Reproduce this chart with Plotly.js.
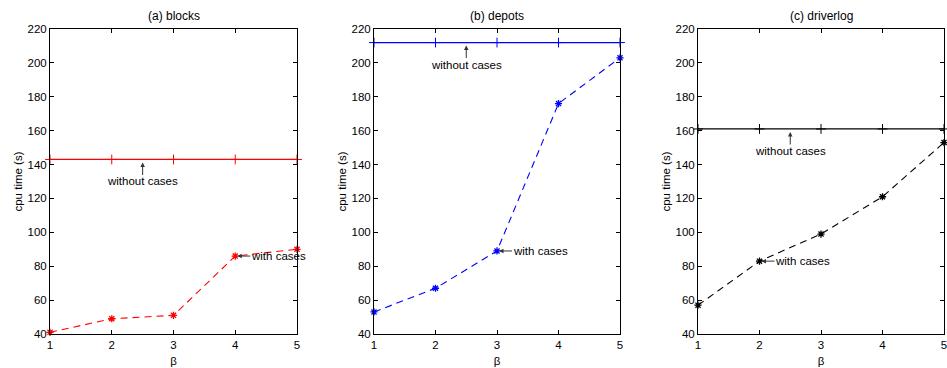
<!DOCTYPE html>
<html><head><meta charset="utf-8">
<script src="https://cdn.plot.ly/plotly-3.0.1.min.js"></script>
<style>html,body{margin:0;padding:0;background:#fff}#chart{width:947px;height:368px}</style>
</head><body><div id="chart"></div>
<script>
const beta = [1, 2, 3, 4, 5];
const panelTitles = ['(a) blocks', '(b) depots', '(c) driverlog'];
const withoutBlocks = [143, 143, 143, 143, 143];
const withBlocks = [41, 49, 51, 86, 90];
const withoutDepots = [212, 212, 212, 212, 212];
const withDepots = [53, 67, 89, 176, 203];
const withoutDriverlog = [161, 161, 161, 161, 161];
const withDriverlog = [57, 83, 99, 121, 153];
const yTicks = [40, 60, 80, 100, 120, 140, 160, 180, 200, 220];
const withLabelIndex = [3, 2, 1];
const withoutLabelX = 2.5;

const withoutSeries = [withoutBlocks, withoutDepots, withoutDriverlog];
const withSeries = [withBlocks, withDepots, withDriverlog];
const colors = ['#ff0000', '#0000ff', '#000000'];
const W = 947, H = 368;
const xDomains = [[50 / W, 297 / W], [374 / W, 620 / W], [698 / W, 944 / W]];
const yDomain = [1 - 334 / H, 1 - 29 / H];
const FONT = 'Liberation Sans, Arial, Helvetica, sans-serif';

const data = [];
const layout = {
  width: W, height: H,
  margin: {l: 0, r: 0, t: 0, b: 0},
  paper_bgcolor: '#fff', plot_bgcolor: '#fff',
  showlegend: false,
  font: {family: FONT, size: 11, color: '#000'},
  annotations: []
};

for (let i = 0; i < 3; i++) {
  const n = i === 0 ? '' : String(i + 1);
  const xa = 'x' + n, ya = 'y' + n;
  data.push({
    x: beta, y: withoutSeries[i], xaxis: xa, yaxis: ya, type: 'scatter', mode: 'lines+markers',
    line: {color: colors[i], width: 1.3},
    marker: {symbol: 'cross-thin-open', size: 7, color: colors[i], line: {color: colors[i], width: 1}},
    cliponaxis: false, hoverinfo: 'skip'
  });
  data.push({
    x: beta, y: withSeries[i], xaxis: xa, yaxis: ya, type: 'scatter', mode: 'lines+markers',
    line: {color: colors[i], width: 1.1, dash: '7px,5px'},
    marker: {symbol: 'asterisk-open', size: 6, color: colors[i], line: {color: colors[i], width: 1.3}},
    cliponaxis: false, hoverinfo: 'skip'
  });
  layout['xaxis' + n] = {
    domain: xDomains[i], anchor: ya, range: [1, 5], tickvals: beta,
    ticks: 'inside', ticklen: 4, tickcolor: '#000', showline: true, mirror: 'ticks',
    linecolor: '#000', linewidth: 1, showgrid: false, zeroline: false,
    ticklabeloverflow: 'allow',
    tickfont: {family: FONT, size: 11.5}, fixedrange: true,
    title: {text: 'β', font: {family: FONT, size: 11.5}, standoff: 7}
  };
  layout['yaxis' + n] = {
    domain: yDomain, anchor: xa, range: [40, 220], tickvals: yTicks,
    ticks: 'inside', ticklen: 4, tickcolor: '#000', showline: true, mirror: 'ticks',
    linecolor: '#000', linewidth: 1, showgrid: false, zeroline: false,
    ticklabeloverflow: 'allow',
    tickfont: {family: FONT, size: 11.5}, fixedrange: true,
    title: {text: 'cpu time (s)', font: {family: FONT, size: 11.5}, standoff: 2}
  };
  layout.annotations.push({
    xref: 'paper', yref: 'paper', x: (xDomains[i][0] + xDomains[i][1]) / 2, y: 1 - 16 / H,
    xanchor: 'center', yanchor: 'middle', text: panelTitles[i], showarrow: false,
    font: {family: FONT, size: 12}
  });
  layout.annotations.push({
    xref: xa, yref: ya, x: withoutLabelX, y: withoutSeries[i][0],
    text: 'without cases', showarrow: true, ax: 0, ay: 22,
    arrowhead: 2, arrowsize: 0.9, arrowwidth: 1, arrowcolor: '#333', standoff: 3,
    borderpad: 0, font: {family: FONT, size: 11.5}
  });
  const k = withLabelIndex[i];
  layout.annotations.push({
    xref: xa, yref: ya, x: beta[k], y: withSeries[i][k],
    text: 'with cases', showarrow: true, ax: 43, ay: 0,
    arrowhead: 2, arrowsize: 0.9, arrowwidth: 1, arrowcolor: '#333', standoff: 2,
    borderpad: 0, font: {family: FONT, size: 11.5}
  });
}

Plotly.newPlot('chart', data, layout, {displayModeBar: false, staticPlot: true});
</script>
</body></html>
